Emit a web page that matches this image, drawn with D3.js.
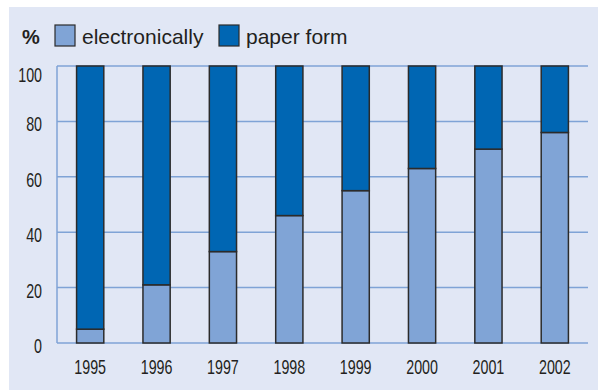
<!DOCTYPE html>
<html>
<head>
	<script src="https://cdnjs.cloudflare.com/ajax/libs/d3/7.8.5/d3.min.js"></script>
	<style>
		body { margin: 0; background: white; }
		text { font-family: "Liberation Sans", Arial; fill: #231f20; }
		.legend text { font-size: 21px; }
	</style>
</head>
<body>
	<svg id="main" width="598" height="390"></svg>
	<script>
		var years = ['1995', '1996', '1997', '1998', '1999', '2000', '2001', '2002'];
		var electronically = [5, 21, 33, 46, 55, 63, 70, 76];
		var paperForm = [95, 79, 67, 54, 45, 37, 30, 24];
		var yTicks = [0, 20, 40, 60, 80, 100];
		var seriesNames = ['electronically', 'paper form'];
		var seriesColors = ['#80a4d6', '#0066b3'];

		var svg = d3.select('#main');

		// panel background
		svg.append('rect')
			.attr('x', 9).attr('y', 7)
			.attr('width', 600).attr('height', 400)
			.attr('fill', '#e1e7f5');

		var plotLeft = 57, plotTop = 66, plotRight = 588, plotBottom = 343;

		var x = d3.scaleBand().domain(years).range([plotLeft, plotRight]).paddingInner(0.59).paddingOuter(0.295);
		var y = d3.scaleLinear().domain([0, 100]).range([plotBottom, plotTop]);

		// gridlines
		svg.append('g').selectAll('line').data(yTicks)
			.enter().append('line')
			.attr('x1', plotLeft).attr('x2', plotRight)
			.attr('y1', function(d) { return y(d); })
			.attr('y2', function(d) { return y(d); })
			.attr('stroke', '#7fa3d6')
			.attr('stroke-width', 1.5);

		svg.append('line')
			.attr('x1', plotLeft).attr('x2', plotLeft)
			.attr('y1', y(0)).attr('y2', y(100))
			.attr('stroke', '#7fa3d6')
			.attr('stroke-width', 1.5);

		// y tick labels (condensed look), top one sits a bit lower
		svg.append('g').selectAll('text').data(yTicks)
			.enter().append('text')
			.attr('transform', function(d) {
				var off = d === 100 ? 16 : 10;
				return 'translate(42,' + (y(d) + off) + ') scale(0.68,1)';
			})
			.attr('text-anchor', 'end')
			.style('font-size', '21px')
			.text(function(d) { return d; });

		// x labels
		svg.append('g').selectAll('text').data(years)
			.enter().append('text')
			.attr('transform', function(d) { return 'translate(' + (x(d) + x.bandwidth() / 2) + ',374) scale(0.68,1)'; })
			.attr('text-anchor', 'middle')
			.style('font-size', '21px')
			.text(function(d) { return d; });

		// bars
		var bars = svg.append('g');
		bars.selectAll('rect.el').data(years)
			.enter().append('rect')
			.attr('class', 'el')
			.attr('x', function(d) { return x(d); })
			.attr('width', x.bandwidth())
			.attr('y', function(d, i) { return y(electronically[i]); })
			.attr('height', function(d, i) { return y(0) - y(electronically[i]); })
			.attr('fill', seriesColors[0])
			.attr('stroke', '#2b2b2b')
			.attr('stroke-width', 1.5);

		bars.selectAll('rect.pf').data(years)
			.enter().append('rect')
			.attr('class', 'pf')
			.attr('x', function(d) { return x(d); })
			.attr('width', x.bandwidth())
			.attr('y', function(d, i) { return y(electronically[i] + paperForm[i]); })
			.attr('height', function(d, i) { return y(electronically[i]) - y(electronically[i] + paperForm[i]); })
			.attr('fill', seriesColors[1])
			.attr('stroke', '#2b2b2b')
			.attr('stroke-width', 1.5);

		// legend
		svg.append('text')
			.attr('x', 22).attr('y', 44)
			.style('font-size', '20px')
			.style('font-weight', 'bold')
			.text('%');

		var legendX = [55, 219];
		var legend = svg.append('g').attr('class', 'legend');
		seriesNames.forEach(function(name, i) {
			legend.append('rect')
				.attr('x', legendX[i]).attr('y', 25)
				.attr('width', 20).attr('height', 21)
				.attr('fill', seriesColors[i])
				.attr('stroke', '#2b2b2b')
				.attr('stroke-width', 1.2);
			legend.append('text')
				.attr('x', legendX[i] + 27).attr('y', 44)
				.text(name);
		});
	</script>
</body>
</html>
